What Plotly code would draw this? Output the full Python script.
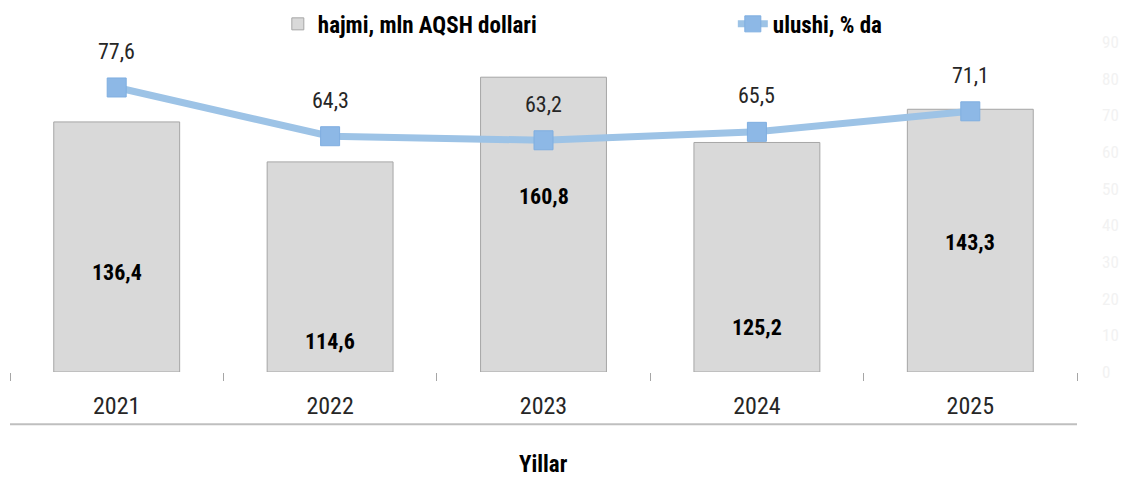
import plotly.graph_objects as go

years = ["2021", "2022", "2023", "2024", "2025"]
volume = [136.4, 114.6, 160.8, 125.2, 143.3]
share = [77.6, 64.3, 63.2, 65.5, 71.1]
volume_text = ["136,4", "114,6", "160,8", "125,2", "143,3"]
share_text = ["77,6", "64,3", "63,2", "65,5", "71,1"]
volume_label_pos = [54.5, 16.9, 96.0, 24.5, 70.9]
x_title = "Yillar"

FONT = "Liberation Sans Narrow, Roboto Condensed, Roboto, sans-serif"

fig = go.Figure()
fig.add_trace(go.Bar(
    x=years, y=volume, name="hajmi, mln AQSH dollari",
    marker=dict(color="#D9D9D9", line=dict(color="#A6A6A6", width=1)),
    yaxis="y",
))
fig.add_trace(go.Scatter(
    x=years, y=share, name="ulushi, % da", mode="lines+markers",
    line=dict(color="#9DC3E6", width=7),
    marker=dict(symbol="square", size=19, color="#8DB8E6",
                line=dict(color="#7FAEE0", width=1)),
    yaxis="y2",
))

annotations = []
for i, (pos, t) in enumerate(zip(volume_label_pos, volume_text)):
    annotations.append(dict(x=i, y=pos, xref="x", yref="y", text=t, showarrow=False,
                            font=dict(family=FONT, size=22, color="#000000", weight="bold")))
for i, (v, t) in enumerate(zip(share, share_text)):
    annotations.append(dict(x=i, y=v, xref="x", yref="y2", text=t, showarrow=False,
                            yshift=36, font=dict(family=FONT, size=22, color="#262626")))
annotations.append(dict(x=0.5, y=-0.28, xref="paper", yref="paper", text=x_title,
                        showarrow=False, xanchor="center", yanchor="middle",
                        font=dict(family=FONT, size=23, color="#000000", weight="bold")))

fig.update_layout(
    width=1122, height=474,
    margin=dict(l=2, r=53, t=34, b=110, autoexpand=False),
    paper_bgcolor="white", plot_bgcolor="white",
    font=dict(family=FONT, color="#262626"),
    bargap=0.41,
    showlegend=True,
    legend=dict(orientation="h", x=0.251, y=1.12, xanchor="left", yanchor="top",
                font=dict(family=FONT, size=23, color="#000000", weight="bold"),
                entrywidth=410, bgcolor="rgba(0,0,0,0)"),
    xaxis=dict(type="category", range=[-0.5, 4.5], autorange=False, automargin=False,
               tickson="boundaries", ticks="outside", ticklen=8,
               tickcolor="#A6A6A6", tickwidth=1, showline=False, showgrid=False,
               tickangle=0, ticklabelstandoff=17,
               tickfont=dict(family=FONT, size=24, color="#262626")),
    yaxis=dict(range=[0, 180], visible=False, showgrid=False, automargin=False),
    yaxis2=dict(range=[0, 90], dtick=10, overlaying="y", side="right", showgrid=False,
                zeroline=False, showline=False, ticks="", automargin=False,
                tickfont=dict(family=FONT, size=17, color="#F2F2F2"),
                ticklabelstandoff=24),
    annotations=annotations,
    shapes=[dict(type="line", xref="paper", yref="paper", x0=0, x1=1, y0=-0.158, y1=-0.158,
                 line=dict(color="#BFBFBF", width=2))],
)

fig.write_html("out.html")
